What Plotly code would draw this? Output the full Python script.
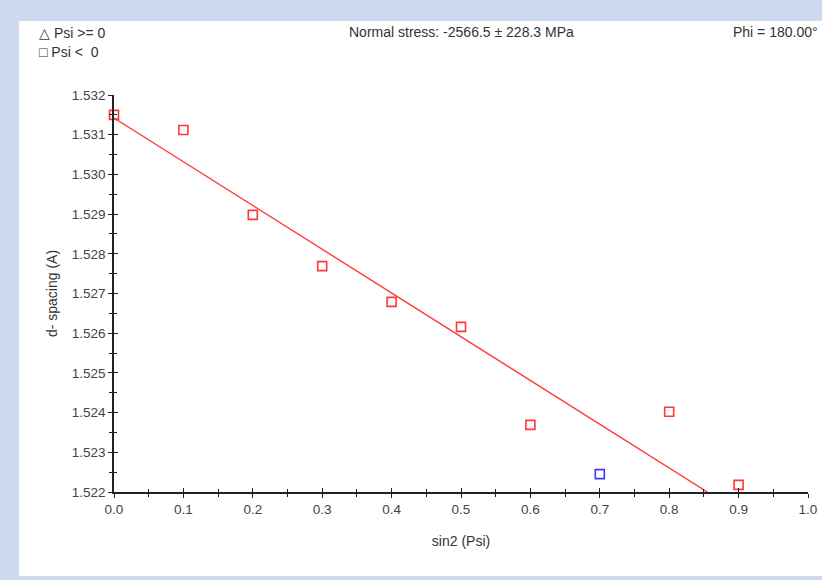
import plotly.graph_objects as go

# Data
sin2_psi = [0.0, 0.1, 0.2, 0.3, 0.4, 0.5, 0.6, 0.8, 0.9]
d_spacing = [1.5315, 1.53112, 1.52898, 1.52769, 1.52679, 1.52616, 1.52369, 1.52402, 1.52218]
sin2_psi_blue = [0.7]
d_spacing_blue = [1.52245]
fit_x = [0.0, 0.855]
fit_y = [1.53142, 1.522]

x_ticks = [0.0, 0.1, 0.2, 0.3, 0.4, 0.5, 0.6, 0.7, 0.8, 0.9, 1.0]
y_ticks = [1.522, 1.523, 1.524, 1.525, 1.526, 1.527, 1.528, 1.529, 1.530, 1.531, 1.532]

RED = "#ff3838"
BLUE = "#3a3aff"
AXC = "#222222"
TXT = "#333333"
FONT = "Liberation Sans"
FS = 14

fig = go.Figure()
fig.add_trace(go.Scatter(x=fit_x, y=fit_y, mode="lines",
                         line=dict(color=RED, width=1.4), showlegend=False,
                         hoverinfo="skip", cliponaxis=True))
fig.add_trace(go.Scatter(x=sin2_psi, y=d_spacing, mode="markers",
                         marker=dict(symbol="square-open", size=9, color=RED,
                                     line=dict(width=1.6, color=RED)),
                         showlegend=False, cliponaxis=False))
fig.add_trace(go.Scatter(x=sin2_psi_blue, y=d_spacing_blue, mode="markers",
                         marker=dict(symbol="square-open", size=9, color=BLUE,
                                     line=dict(width=1.6, color=BLUE)),
                         showlegend=False, cliponaxis=False))
# empty trace so the overlaid tick-only axes get drawn
fig.add_trace(go.Scatter(x=[None], y=[None], xaxis="x2", yaxis="y2", mode="markers",
                         showlegend=False, hoverinfo="skip"))

tickfont = dict(family=FONT, size=13.5, color="#444444")

fig.update_layout(
    width=822, height=580,
    margin=dict(l=114, r=14, t=95, b=88),
    paper_bgcolor="#cdd9ef",
    plot_bgcolor="white",
    font=dict(family=FONT, size=FS, color=TXT),
    xaxis=dict(range=[0, 1], tickvals=x_ticks, ticktext=[f"{v:.1f}" for v in x_ticks],
               automargin=False,
               showgrid=False, zeroline=False, showline=True, linecolor=AXC, linewidth=1.5,
               ticks="outside", ticklen=4, tickwidth=1.2, tickcolor=AXC,
               minor=dict(dtick=0.05, ticks="outside", ticklen=3, tickwidth=1.2, tickcolor=AXC, showgrid=False),
               tickfont=tickfont,
               title=dict(text="sin2 (Psi)", font=dict(family=FONT, size=FS, color=TXT), standoff=20)),
    yaxis=dict(range=[1.522, 1.532], tickvals=y_ticks, ticktext=[f"{v:.3f}" for v in y_ticks],
               automargin=False,
               showgrid=False, zeroline=False, showline=True, linecolor=AXC, linewidth=1.5,
               ticks="outside", ticklen=4, tickwidth=1.2, tickcolor=AXC,
               minor=dict(dtick=0.0005, ticks="outside", ticklen=3, tickwidth=1.2, tickcolor=AXC, showgrid=False),
               tickfont=tickfont,
               title=dict(text="d- spacing (A)", font=dict(family=FONT, size=FS, color=TXT), standoff=11)),
    xaxis2=dict(range=[0, 1], overlaying="x", anchor="y", side="bottom", automargin=False,
                tickvals=x_ticks, showticklabels=False, showgrid=False, zeroline=False,
                showline=False, ticks="inside", ticklen=4, tickwidth=1.2, tickcolor=AXC,
                minor=dict(dtick=0.05, ticks="inside", ticklen=3, tickwidth=1.2, tickcolor=AXC, showgrid=False)),
    yaxis2=dict(range=[1.522, 1.532], overlaying="y", anchor="x", side="left", automargin=False,
                tickvals=y_ticks, showticklabels=False, showgrid=False, zeroline=False,
                showline=False, ticks="inside", ticklen=4, tickwidth=1.2, tickcolor=AXC,
                minor=dict(dtick=0.0005, ticks="inside", ticklen=3, tickwidth=1.2, tickcolor=AXC, showgrid=False)),
    shapes=[dict(type="rect", xref="paper", yref="paper",
                 x0=(19 - 114) / 694, x1=(830 - 114) / 694,
                 y0=(4 - 88) / 397, y1=(559 - 88) / 397,
                 fillcolor="white", line=dict(width=0), layer="below")],
    annotations=[
        dict(text="Normal stress: -2566.5 ± 228.3 MPa", xref="paper", yref="paper",
             x=(461 - 114) / 694, y=(580 - 32 - 88) / 397, xanchor="center", yanchor="middle",
             showarrow=False, font=dict(family=FONT, size=FS, color=TXT)),
        dict(text="Phi = 180.00°", xref="paper", yref="paper",
             x=(820 - 114) / 694, y=(580 - 32 - 88) / 397, xanchor="right", yanchor="middle",
             showarrow=False, font=dict(family=FONT, size=FS, color=TXT)),
        dict(text="△ Psi >= 0", xref="paper", yref="paper",
             x=(37 - 114) / 694, y=(580 - 33 - 88) / 397, xanchor="left", yanchor="middle",
             showarrow=False, font=dict(family=FONT, size=FS, color=TXT)),
        dict(text="□ Psi <  0", xref="paper", yref="paper",
             x=(37 - 114) / 694, y=(580 - 52 - 88) / 397, xanchor="left", yanchor="middle",
             showarrow=False, font=dict(family=FONT, size=FS, color=TXT)),
    ],
)

fig.write_html("out.html")
